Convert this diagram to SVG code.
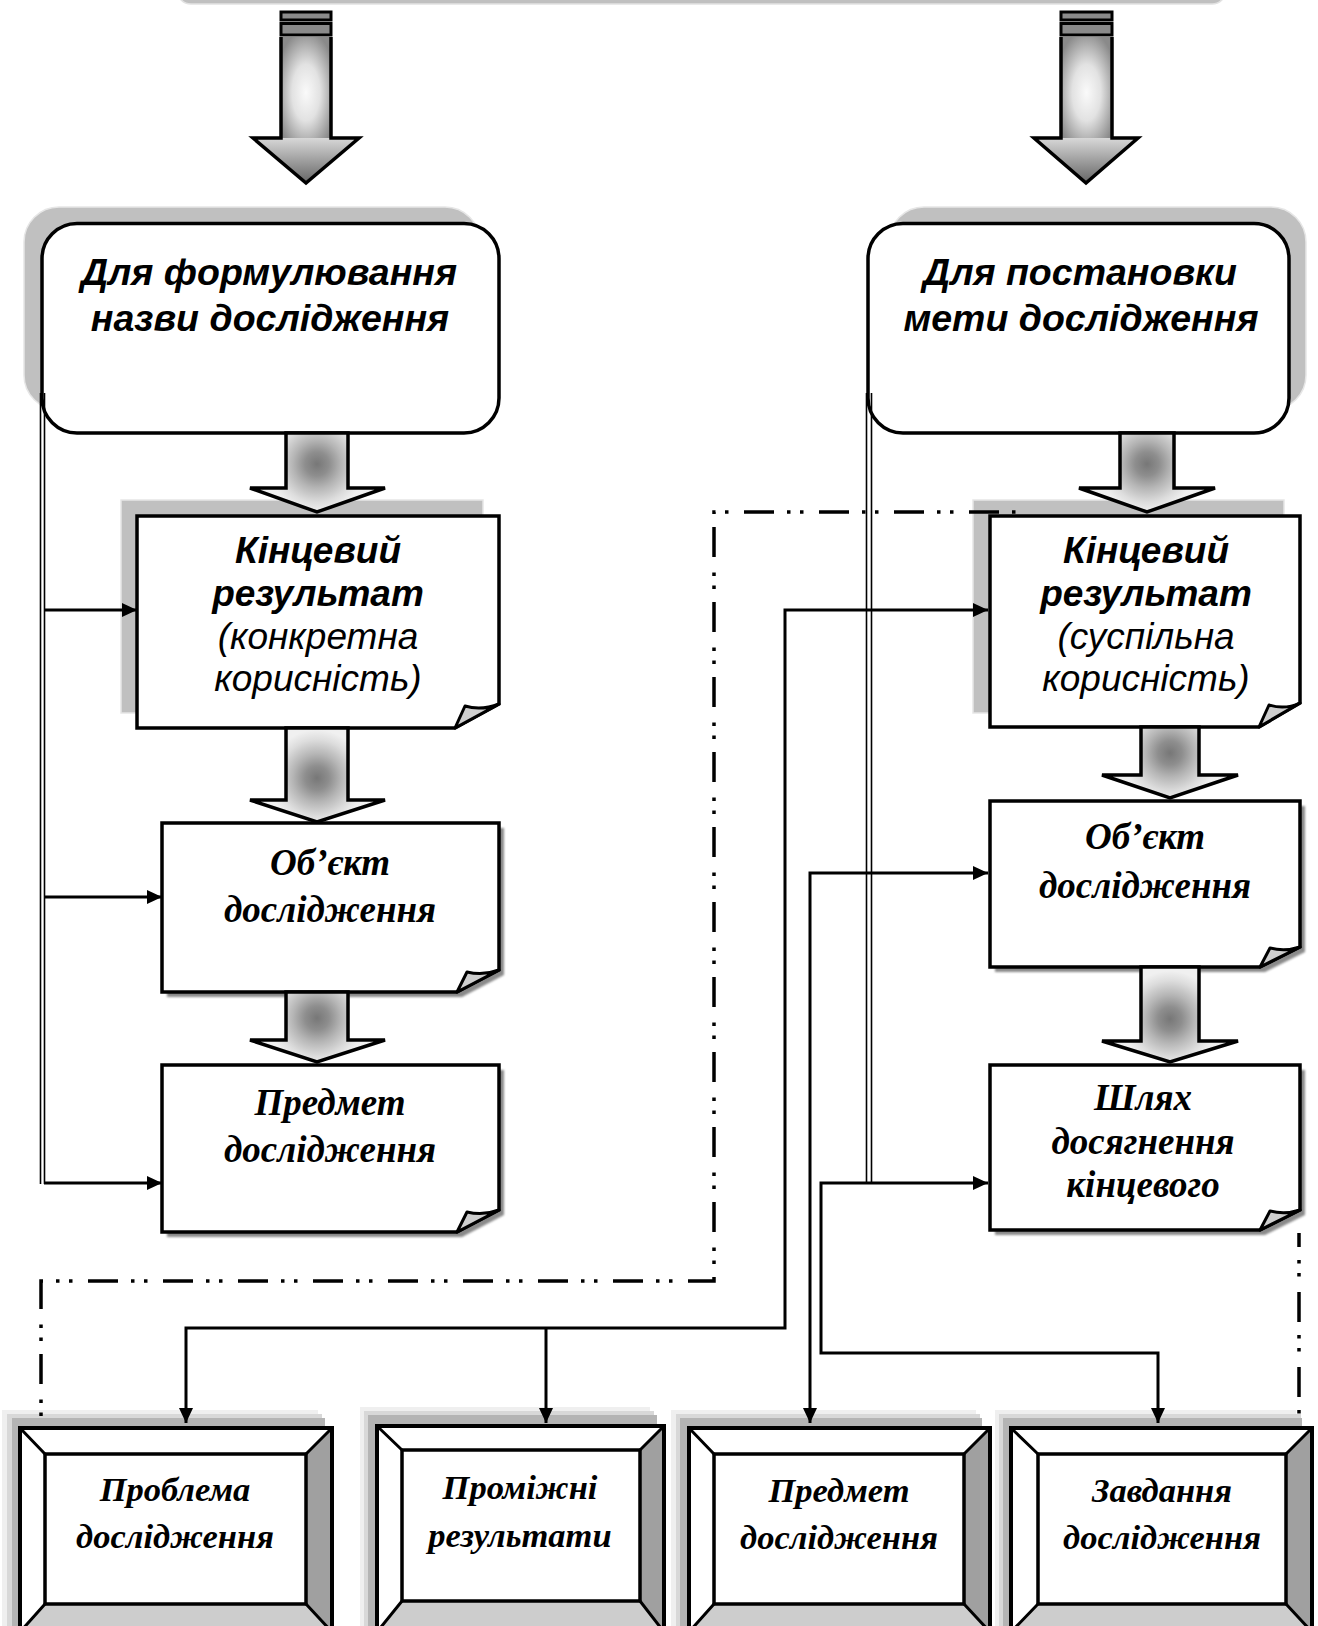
<svg xmlns="http://www.w3.org/2000/svg" width="1318" height="1626" viewBox="0 0 1318 1626">
<defs>
<style>
.box{fill:#fff;stroke:#000;stroke-width:3.5;stroke-linejoin:miter}
.sh{fill:#c0c0c0;stroke:#e6e6e6;stroke-width:1.5}
.dsh{fill:#8a8a8a;filter:url(#blur)}
.flap{fill:#cfcfcf;stroke:#000;stroke-width:3;stroke-linejoin:round}
.hs{font-family:"Liberation Sans",Arial,sans-serif;font-weight:bold;font-style:italic;font-size:37.5px;text-anchor:middle}
.ab{font-family:"Liberation Sans",Arial,sans-serif;font-weight:bold;font-style:italic;font-size:37px;text-anchor:middle}
.ai{font-family:"Liberation Sans",Arial,sans-serif;font-style:italic;font-size:37px;text-anchor:middle}
.tb{font-family:"Liberation Serif","Times New Roman",serif;font-weight:bold;font-style:italic;font-size:37px;text-anchor:middle}
.tbs{font-family:"Liberation Serif","Times New Roman",serif;font-weight:bold;font-style:italic;font-size:34.5px;text-anchor:middle}
.ln{fill:none;stroke:#000;stroke-width:3}
.dbl{fill:none;stroke:#000;stroke-width:1.6}
.dd{fill:none;stroke:#000;stroke-width:3.5;stroke-dasharray:30 13 3.5 9.5 3.5 15.5}
.blk{stroke:#000;stroke-width:3.5;stroke-linejoin:miter}
.bo{fill:none;stroke:#000;stroke-width:4}
.bi{fill:#fff;stroke:#000;stroke-width:3.5}
.bd{stroke:#000;stroke-width:3}
.fw{fill:#fff}
.fr{fill:#a0a0a0}
.fb{fill:#cdcdcd}
.s1{fill:#efefef}
.s2{fill:#d8d8d8}
.s3{fill:#b4b4b4}
</style>
<filter id="blur" x="-5%" y="-5%" width="110%" height="110%"><feGaussianBlur stdDeviation="1.3"/></filter>
<marker id="ah" markerUnits="userSpaceOnUse" markerWidth="15" markerHeight="14" refX="15" refY="7" orient="auto-start-reverse" viewBox="0 0 15 14"><path d="M0,0 L15,7 L0,14 Z" fill="#000"/></marker>
<radialGradient id="gb" gradientUnits="userSpaceOnUse" cx="0" cy="0" r="48">
<stop offset="0" stop-color="#777"/><stop offset="0.25" stop-color="#8e8e8e"/><stop offset="0.5" stop-color="#b5b5b5"/><stop offset="0.8" stop-color="#dddddd"/><stop offset="1" stop-color="#f0f0f0"/>
</radialGradient>
<radialGradient id="ga1" href="#gb" cx="317" cy="464"/>
<radialGradient id="ga2" href="#gb" cx="317" cy="778"/>
<radialGradient id="ga3" href="#gb" cx="317" cy="1018"/>
<radialGradient id="ga4" href="#gb" cx="1147" cy="464"/>
<radialGradient id="ga5" href="#gb" cx="1170" cy="753"/>
<radialGradient id="ga6" href="#gb" cx="1170" cy="1019"/>
<radialGradient id="bsh" cx="0.5" cy="0.55" r="0.62">
<stop offset="0" stop-color="#fafafa"/><stop offset="0.45" stop-color="#e2e2e2"/><stop offset="1" stop-color="#8a8a8a"/>
</radialGradient>
<linearGradient id="bhd" x1="0" y1="0" x2="0" y2="1">
<stop offset="0" stop-color="#d8d8d8"/><stop offset="1" stop-color="#666"/>
</linearGradient>
</defs>

<rect width="1318" height="1626" fill="#fff"/>

<g id="top-node">
<rect x="177" y="-40" width="1049" height="44" rx="14" fill="#c0c0c0" stroke="#e2e2e2" stroke-width="1.5"/>
</g>

<g id="node-title-name">
<rect class="sh" x="24" y="207" width="456" height="203" rx="35"/>
<rect class="box" x="42" y="223.5" width="457" height="209.5" rx="35"/>
<text class="hs" x="269" y="285">Для формулювання</text>
<text class="hs" x="270" y="331">назви дослідження</text>
</g>

<g id="node-goal">
<rect class="sh" x="889" y="207" width="417" height="203" rx="35"/>
<rect class="box" x="868" y="223.5" width="421" height="209.5" rx="35"/>
<text class="hs" x="1080" y="285">Для постановки</text>
<text class="hs" x="1081" y="331">мети дослідження</text>
</g>

<g id="node-result-left">
<rect class="sh" x="121" y="500" width="362" height="213"/>
<path class="box" d="M137,516 H499 V704 L455,728 H137 Z"/>
<path class="flap" d="M455,728 L465,706 Q481,711 499,704 Z"/>
<text class="ab" x="318" y="563">Кінцевий</text>
<text class="ab" x="318" y="606">результат</text>
<text class="ai" x="318" y="649">(конкретна</text>
<text class="ai" x="318" y="691">корисність)</text>
</g>

<g id="node-object-left">
<path class="dsh" d="M167,828 H504 V975 L462,997 H167 Z"/>
<path class="box" d="M162,823 H499 V970 L457,992 H162 Z"/>
<path class="flap" d="M457,992 L467,972 Q483,976 499,970 Z"/>
<text class="tb" x="330" y="875">Об’єкт</text>
<text class="tb" x="330" y="922">дослідження</text>
</g>

<g id="node-subject-left">
<path class="dsh" d="M167,1070 H504 V1215 L462,1237 H167 Z"/>
<path class="box" d="M162,1065 H499 V1210 L457,1232 H162 Z"/>
<path class="flap" d="M457,1232 L467,1212 Q483,1216 499,1210 Z"/>
<text class="tb" x="330" y="1115">Предмет</text>
<text class="tb" x="330" y="1162">дослідження</text>
</g>

<g id="node-result-right">
<rect class="sh" x="973" y="500" width="311" height="213"/>
<path class="box" d="M990,516 H1300 V703 L1259,727 H990 Z"/>
<path class="flap" d="M1259,727 L1269,705 Q1285,710 1300,703 Z"/>
<text class="ab" x="1146" y="563">Кінцевий</text>
<text class="ab" x="1146" y="606">результат</text>
<text class="ai" x="1146" y="649">(суспільна</text>
<text class="ai" x="1146" y="691">корисність)</text>
</g>

<g id="node-object-right">
<path class="dsh" d="M995,806 H1305 V952 L1265,972 H995 Z"/>
<path class="box" d="M990,801 H1300 V947 L1260,967 H990 Z"/>
<path class="flap" d="M1260,967 L1270,948 Q1285,952 1300,947 Z"/>
<text class="tb" x="1145" y="849">Об’єкт</text>
<text class="tb" x="1145" y="898">дослідження</text>
</g>

<g id="node-path">
<path class="dsh" d="M995,1070 H1305 V1215 L1265,1235 H995 Z"/>
<path class="box" d="M990,1065 H1300 V1210 L1260,1230 H990 Z"/>
<path class="flap" d="M1260,1230 L1270,1211 Q1285,1215 1300,1210 Z"/>
<text class="tb" x="1143" y="1110">Шлях</text>
<text class="tb" x="1143" y="1154">досягнення</text>
<text class="tb" x="1143" y="1197">кінцевого</text>
</g>

<g id="node-problem">
<rect class="s1" x="2" y="1410" width="316" height="230"/>
<rect class="s2" x="7" y="1414" width="315" height="230"/>
<rect class="s3" x="12" y="1418" width="313" height="230"/>
<polygon class="fw" points="20,1428 332,1428 306,1454 45,1454"/>
<polygon class="fw" points="20,1428 45,1454 45,1604 20,1632"/>
<polygon class="fr" points="332,1428 332,1632 306,1604 306,1454"/>
<polygon class="fb" points="20,1632 332,1632 306,1604 45,1604"/>
<rect class="bi" x="45" y="1454" width="261" height="150"/>
<path class="bd" d="M20,1428 L45,1454 M332,1428 L306,1454 M20,1632 L45,1604 M332,1632 L306,1604"/>
<rect class="bo" x="20" y="1428" width="312" height="210"/>
<text class="tbs" x="175" y="1501">Проблема</text>
<text class="tbs" x="175" y="1548">дослідження</text>
</g>

<g id="node-intermediate">
<rect class="s1" x="360" y="1407" width="290" height="230"/>
<rect class="s2" x="364" y="1411" width="290" height="230"/>
<rect class="s3" x="368" y="1415" width="289" height="230"/>
<polygon class="fw" points="377,1426 664,1426 640,1450 402,1450"/>
<polygon class="fw" points="377,1426 402,1450 402,1601 377,1632"/>
<polygon class="fr" points="664,1426 664,1632 640,1601 640,1450"/>
<polygon class="fb" points="377,1632 664,1632 640,1601 402,1601"/>
<rect class="bi" x="402" y="1450" width="238" height="151"/>
<path class="bd" d="M377,1426 L402,1450 M664,1426 L640,1450 M377,1632 L402,1601 M664,1632 L640,1601"/>
<rect class="bo" x="377" y="1426" width="287" height="212"/>
<text class="tbs" x="520" y="1499">Проміжні</text>
<text class="tbs" x="520" y="1547">результати</text>
</g>

<g id="node-subject-bottom">
<rect class="s1" x="671" y="1410" width="305" height="230"/>
<rect class="s2" x="676" y="1414" width="304" height="230"/>
<rect class="s3" x="680" y="1418" width="302" height="230"/>
<polygon class="fw" points="689,1428 990,1428 964,1454 714,1454"/>
<polygon class="fw" points="689,1428 714,1454 714,1604 689,1632"/>
<polygon class="fr" points="990,1428 990,1632 964,1604 964,1454"/>
<polygon class="fb" points="689,1632 990,1632 964,1604 714,1604"/>
<rect class="bi" x="714" y="1454" width="250" height="150"/>
<path class="bd" d="M689,1428 L714,1454 M990,1428 L964,1454 M689,1632 L714,1604 M990,1632 L964,1604"/>
<rect class="bo" x="689" y="1428" width="301" height="210"/>
<text class="tbs" x="839" y="1502">Предмет</text>
<text class="tbs" x="839" y="1549">дослідження</text>
</g>

<g id="node-tasks">
<rect class="s1" x="995" y="1410" width="301" height="230"/>
<rect class="s2" x="999" y="1414" width="302" height="230"/>
<rect class="s3" x="1003" y="1418" width="299" height="230"/>
<polygon class="fw" points="1011,1428 1312,1428 1286,1454 1038,1454"/>
<polygon class="fw" points="1011,1428 1038,1454 1038,1604 1011,1632"/>
<polygon class="fr" points="1312,1428 1312,1632 1286,1604 1286,1454"/>
<polygon class="fb" points="1011,1632 1312,1632 1286,1604 1038,1604"/>
<rect class="bi" x="1038" y="1454" width="248" height="150"/>
<path class="bd" d="M1011,1428 L1038,1454 M1312,1428 L1286,1454 M1011,1632 L1038,1604 M1312,1632 L1286,1604"/>
<rect class="bo" x="1011" y="1428" width="301" height="210"/>
<text class="tbs" x="1162" y="1502">Завдання</text>
<text class="tbs" x="1162" y="1549">дослідження</text>
</g>

<g id="connectors">
<rect x="281" y="12" width="50" height="8" fill="#8a8a8a" stroke="#000" stroke-width="3"/>
<rect x="281" y="23.5" width="50" height="11.5" fill="#8a8a8a" stroke="#000" stroke-width="3"/>
<rect x="281" y="37" width="50" height="101" fill="url(#bsh)"/>
<polygon points="253,138 359,138 306,183" fill="url(#bhd)"/>
<path class="blk" fill="none" d="M281,37 V138 H253 L306,183 L359,138 H331 V37"/>
<rect x="1061" y="12" width="51" height="8" fill="#8a8a8a" stroke="#000" stroke-width="3"/>
<rect x="1061" y="23.5" width="51" height="11.5" fill="#8a8a8a" stroke="#000" stroke-width="3"/>
<rect x="1061" y="37" width="51" height="101" fill="url(#bsh)"/>
<polygon points="1034,138 1138,138 1086,183" fill="url(#bhd)"/>
<path class="blk" fill="none" d="M1061,37 V138 H1034 L1086,183 L1138,138 H1112 V37"/>
<path class="blk" fill="url(#ga1)" d="M286,433 V488 H250 L317,512 L385,488 H348 V433 Z"/>
<path class="blk" fill="url(#ga2)" d="M286,728 V800 H250 L317,822 L385,800 H348 V728 Z"/>
<path class="blk" fill="url(#ga3)" d="M286,992 V1040 H250 L317,1062 L385,1040 H348 V992 Z"/>
<path class="blk" fill="url(#ga4)" d="M1120,433 V488 H1079 L1147,512 L1215,488 H1174 V433 Z"/>
<path class="blk" fill="url(#ga5)" d="M1141,727 V775 H1102 L1170,798 L1238,775 H1199 V727 Z"/>
<path class="blk" fill="url(#ga6)" d="M1141,967 V1041 H1102 L1170,1062 L1238,1041 H1199 V967 Z"/>
<path class="dbl" d="M40.5,393 V1184 M44.5,393 V1184"/>
<path class="dbl" d="M866.5,393 V1184 M871.5,393 V1184"/>
<path class="ln" d="M44,610 H137" marker-end="url(#ah)"/>
<path class="ln" d="M44,897 H162" marker-end="url(#ah)"/>
<path class="ln" d="M44,1183 H162" marker-end="url(#ah)"/>
<path class="ln" d="M186,1423 V1328 H785 V610 H988" marker-start="url(#ah)" marker-end="url(#ah)"/>
<path class="ln" d="M546,1328 V1423" marker-end="url(#ah)"/>
<path class="ln" d="M810,1423 V873 H988" marker-start="url(#ah)" marker-end="url(#ah)"/>
<path class="ln" d="M988,1183 H821 V1353 H1158 V1423" marker-start="url(#ah)" marker-end="url(#ah)"/>
<path class="dd" stroke-dashoffset="36" d="M41,1423 V1281 H714 V512 H1024"/>
<path class="dd" stroke-dashoffset="16" d="M1299,1233 V1423"/>
</g>
</svg>
